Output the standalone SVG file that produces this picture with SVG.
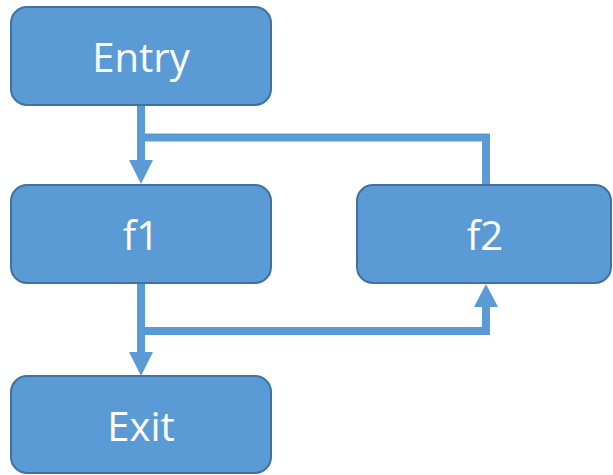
<svg xmlns="http://www.w3.org/2000/svg" width="613" height="475" viewBox="0 0 613 475">
<defs>
<style>
.node{fill:#5B9BD5;stroke:#41719C;stroke-width:2}
.lbl{fill:#FFFFFF;font-family:"Open Sans","Liberation Sans",sans-serif;font-size:40px;text-anchor:middle}
.edge{fill:none;stroke:#5B9BD5;stroke-width:8}
.head{fill:#5B9BD5}
</style>
</defs>
<rect width="613" height="475" fill="#FFFFFF"/>
<g id="connectors">
<path class="edge" d="M141 106 V162"/>
<path class="edge" d="M141 137.5 H486 V185"/>
<polygon class="head" points="129,160 153,160 141,184"/>
<path class="edge" d="M141 284 V354"/>
<path class="edge" d="M141 331 H486 V305"/>
<polygon class="head" points="129,352 153,352 141,376"/>
<polygon class="head" points="474,307 498,307 486,284"/>
</g>
<g id="entry">
<rect class="node" x="11" y="7" width="260" height="98" rx="16"/>
<text class="lbl" x="141" y="72">Entry</text>
</g>
<g id="f1">
<rect class="node" x="11" y="185" width="260" height="98" rx="16"/>
<text class="lbl" x="141" y="250">f1</text>
</g>
<g id="f2">
<rect class="node" x="357" y="185" width="254" height="98" rx="16"/>
<text class="lbl" x="485" y="250">f2</text>
</g>
<g id="exit">
<rect class="node" x="11" y="376" width="260" height="97" rx="16"/>
<text class="lbl" x="141" y="441">Exit</text>
</g>
</svg>
